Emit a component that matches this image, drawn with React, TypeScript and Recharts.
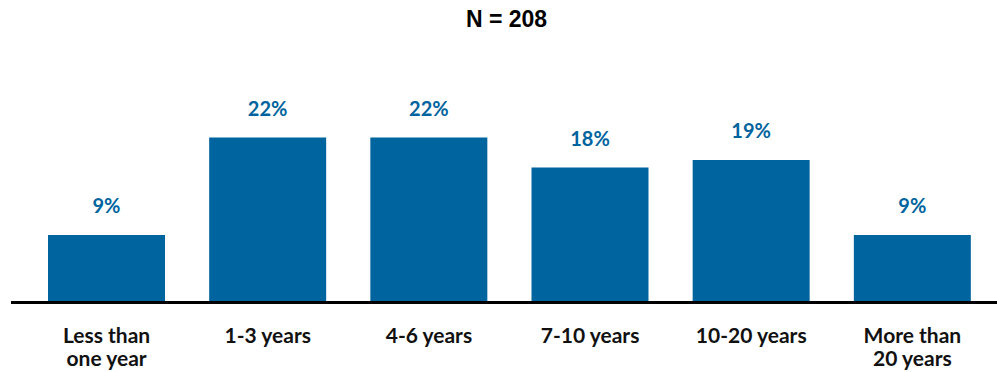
import React from "react";
import { BarChart, Bar, XAxis, YAxis, LabelList } from "recharts";

const categories: string[][] = [
  ["Less than", "one year"],
  ["1-3 years"],
  ["4-6 years"],
  ["7-10 years"],
  ["10-20 years"],
  ["More than", "20 years"],
];
const values: number[] = [9, 22, 22, 18, 19, 9];
const title = "N = 208";

const data = categories.map((c, i) => ({ name: c.join("\n"), value: values[i] }));

const BLUE = "#00649e";
const FONT = "Lato, 'Open Sans', sans-serif";

const Tick = (props: any) => {
  const { x, y, payload } = props;
  const lines = String(payload.value).split("\n");
  return (
    <text
      x={x}
      y={y}
      textAnchor="middle"
      fontFamily={FONT}
      fontWeight={700}
      fontSize={21}
      fill="#111"
    >
      {lines.map((l, i) => (
        <tspan key={i} x={x} y={y + 32.5 + i * 23}>
          {l}
        </tspan>
      ))}
    </text>
  );
};

export default function App() {
  return (
    <div style={{ position: "absolute", left: 0, top: 0, width: 997, height: 372, background: "#fff" }}>
      <div
        style={{
          position: "absolute",
          left: 0,
          top: 6,
          width: 1013,
          textAlign: "center",
          fontFamily: "'Liberation Sans', Arial, sans-serif",
          fontWeight: 700,
          fontSize: 23,
          color: "#000",
          lineHeight: "26px",
        }}
      >
        {title}
      </div>
      <BarChart
        width={997}
        height={372}
        data={data}
        margin={{ top: 77.5, right: 0, left: 11, bottom: 0 }}
        barSize={117}
      >
        <YAxis hide domain={[0, 30]} />
        <XAxis
          dataKey="name"
          height={69.5}
          interval={0}
          padding={{ left: 15, right: 4 }}
          axisLine={{ stroke: "#000", strokeWidth: 3 }}
          tickLine={false}
          tick={<Tick />}
        />
        <Bar dataKey="value" fill={BLUE} isAnimationActive={false}>
          <LabelList
            dataKey="value"
            position="top"
            offset={22}
            formatter={(v: any) => `${v}%`}
            fill={BLUE}
            fontFamily={FONT}
            fontWeight={700}
            fontSize={20}
          />
        </Bar>
      </BarChart>
    </div>
  );
}
